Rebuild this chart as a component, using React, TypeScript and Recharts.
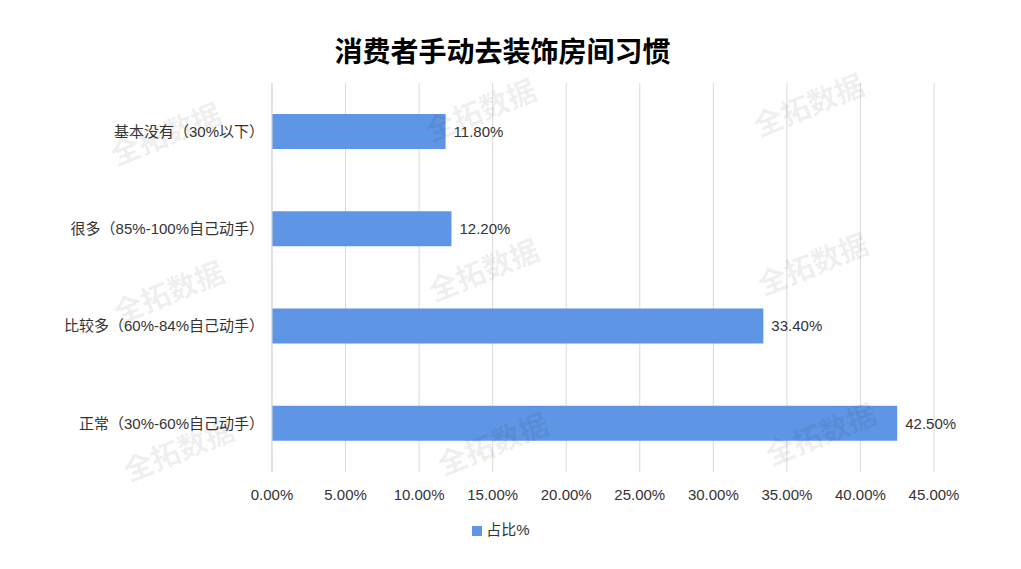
import { Bar, BarChart, CartesianGrid, LabelList, Legend, XAxis, YAxis } from "recharts";

const categories = [
    "基本没有（30%以下）",
    "很多（85%-100%自己动手）",
    "比较多（60%-84%自己动手）",
    "正常（30%-60%自己动手）",
];
const shares = [0.118, 0.122, 0.334, 0.425];
const xTicks = [0, 0.05, 0.1, 0.15, 0.2, 0.25, 0.3, 0.35, 0.4, 0.45];

const watermarks = [
    [165, 132], [480, 108], [808, 103],
    [168, 290], [483, 268], [812, 262],
    [178, 448], [492, 442], [820, 432],
];

const FONT = '"Liberation Sans", "Noto Sans CJK SC", sans-serif';
const LABEL_FONT = '"Liberation Sans", "Noto Sans CJK TC", sans-serif';
const BLUE = "#5e96e5";

const data = categories.map((name, i) => ({ name, value: shares[i] }));

function pct(v: number) {
    return `${(v * 100).toFixed(2)}%`;
}

export default function App() {
    return (
        <div
            style={{
                position: "fixed",
                left: 0,
                top: 0,
                width: 1021,
                height: 569,
                background: "#fff",
                fontFamily: FONT,
                overflow: "hidden",
            }}
        >
            <div
                style={{
                    position: "absolute",
                    top: 30,
                    left: -8,
                    width: 1021,
                    textAlign: "center",
                    fontSize: 28,
                    fontWeight: 700,
                    color: "#000",
                    fontFamily: '"Noto Sans CJK SC", sans-serif',
                    lineHeight: "40px",
                }}
            >
                消费者手动去装饰房间习惯
            </div>
            <BarChart
                width={1021}
                height={569}
                data={data}
                layout="vertical"
                margin={{ top: 83, right: 87, bottom: 67, left: 0 }}
                style={{ position: "absolute", left: 0, top: 0 }}
            >
                <CartesianGrid horizontal={false} stroke="#d9d9d9" />
                <XAxis
                    type="number"
                    domain={[0, 0.45]}
                    ticks={xTicks}
                    tickFormatter={pct}
                    axisLine={false}
                    tickLine={false}
                    tickMargin={11}
                    height={30}
                    tick={{ fontSize: 15, fill: "#333", fontFamily: FONT }}
                />
                <YAxis
                    type="category"
                    dataKey="name"
                    width={272}
                    axisLine={{ stroke: "#d9d9d9" }}
                    tickLine={false}
                    tickSize={0}
                    tickMargin={8}
                    tick={{ fontSize: 15, fill: "#333", fontFamily: LABEL_FONT }}
                />
                <Legend
                    verticalAlign="middle"
                    align="center"
                    iconType="square"
                    iconSize={10}
                    formatter={(value) => (
                        <span style={{ color: "#333", fontSize: 15 }}>{value}</span>
                    )}
                    wrapperStyle={{ top: 518, left: 446, width: 120 }}
                />
                <Bar
                    dataKey="value"
                    name="占比%"
                    fill={BLUE}
                    barSize={35}
                    isAnimationActive={false}
                >
                    <LabelList
                        dataKey="value"
                        position="right"
                        offset={8}
                        formatter={(v: number) => pct(Number(v))}
                        style={{ fontSize: 15, fill: "#333", fontFamily: FONT }}
                    />
                </Bar>
            </BarChart>
            {watermarks.map(([x, y], i) => (
                <div
                    key={i}
                    style={{
                        position: "absolute",
                        left: x - 70,
                        top: y - 20,
                        width: 140,
                        textAlign: "center",
                        fontSize: 29,
                        fontWeight: 700,
                        color: "rgba(0,0,0,0.07)",
                        fontFamily: '"Noto Sans CJK SC", sans-serif',
                        transform: "rotate(-22deg)",
                        pointerEvents: "none",
                        lineHeight: "40px",
                    }}
                >
                    全拓数据
                </div>
            ))}
        </div>
    );
}
